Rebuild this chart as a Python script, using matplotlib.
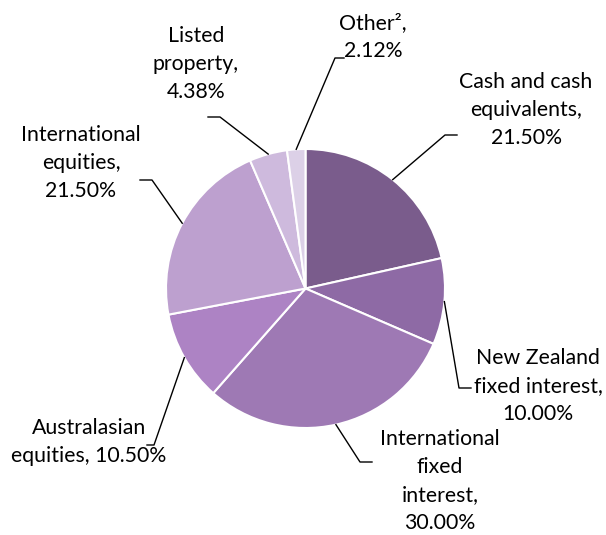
import matplotlib
matplotlib.use("Agg")
import matplotlib.pyplot as plt
import numpy as np

# ----- data
names = ["Cash and cash\nequivalents", "New Zealand\nfixed interest", "International\nfixed\ninterest",
         "Australasian\nequities", "International\nequities", "Listed\nproperty", "Other\u00b2"]
values = [21.50, 10.00, 30.00, 10.50, 21.50, 4.38, 2.12]
seps = [",\n", ",\n", ",\n", ", ", ",\n", ",\n", ",\n"]
colors = ["#7a5c8c", "#8e6aa5", "#9e79b4", "#ad83c4", "#bda0cf", "#cebadd", "#dcd0e7"]

W, H = 606, 535
fig = plt.figure(figsize=(W / 100, H / 100), dpi=100)
ax = fig.add_axes([0, 0, 1, 1])

cx, cy, r = 305.5, H - 288.5, 139.5
wedges, _ = ax.pie(values, colors=colors, startangle=90, counterclock=False,
                   radius=r, center=(cx, cy),
                   wedgeprops=dict(edgecolor="white", linewidth=1.5))
ax.set_xlim(0, W)
ax.set_ylim(0, H)
ax.set_aspect("equal")
ax.axis("off")

# label layout in pixel coords (y from top): text centre, elbow, line end
layout = [
    ((526, 110), (445, 135), (457, 135)),
    ((538, 386), (459, 388), (471, 388)),
    ((440, 481), (360, 462), (372, 462)),
    ((89, 442), (154, 445), (147, 445)),
    ((81, 163), (152, 180), (140, 180)),
    ((196, 64), (220, 117), (208, 117)),
    ((373, 37), (335, 58), (344, 58)),
]

font = dict(family="Lato", fontsize=15.3, color="black", linespacing=1.5)

for w, name, v, sep, (tc, el, en) in zip(wedges, names, values, seps, layout):
    ang = np.deg2rad((w.theta1 + w.theta2) / 2)
    ex, ey = cx + r * np.cos(ang), cy + r * np.sin(ang)
    ax.plot([ex, el[0], en[0]], [ey, H - el[1], H - en[1]], color="black", lw=1)
    ax.text(tc[0], H - tc[1], f"{name}{sep}{v:.2f}%", ha="center", va="center",
            multialignment="center", **font)

plt.savefig("out.png", dpi=100)
